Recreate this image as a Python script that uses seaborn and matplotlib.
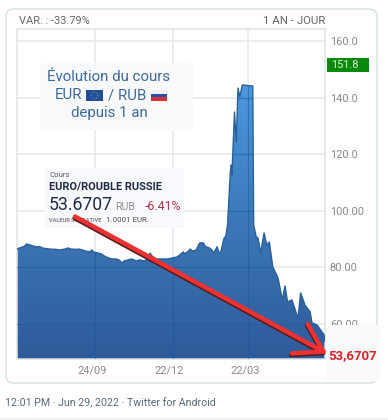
import numpy as np
import pandas as pd
import seaborn as sns
import matplotlib.pyplot as plt
from matplotlib.colors import LinearSegmentedColormap
from matplotlib.patches import FancyBboxPatch, Rectangle, Polygon, Circle
from matplotlib.transforms import ScaledTranslation

# days since 27/06/2021 and EUR/RUB rate
days = [0, 3, 8, 11, 15, 18, 23, 26, 29, 33, 38, 45, 49, 55, 59, 62, 68, 71, 75, 79,
        84, 86, 88, 93, 97, 100, 105, 109, 114, 117, 121, 123, 128, 132, 137, 141,
        146, 151, 153, 155, 160, 167, 173, 179, 184, 187, 191, 193, 197, 199, 202,
        206, 210, 214, 217, 221, 224, 226, 230, 232, 234, 238, 240, 242, 245, 246,
        247, 250, 252, 254, 256, 259, 271, 272, 275, 277, 280, 284, 287, 290, 294,
        300, 305, 308, 311, 316, 323, 326, 331, 337, 339, 345, 353, 354]
rate = [86.5, 86.9, 87.4, 88.3, 88.0, 87.6, 87.3, 87.4, 86.9, 86.7, 86.5, 86.4, 86.2,
        86.5, 86.9, 86.5, 86.4, 86.5, 86.2, 85.8, 85.5, 86.2, 85.5, 85.1, 84.8, 84.1,
        83.4, 83.0, 83.0, 82.7, 81.6, 82.3, 82.7, 83.0, 82.3, 82.7, 82.3, 83.0, 85.1,
        84.1, 83.0, 83.0, 83.0, 83.4, 83.7, 84.4, 85.5, 84.8, 85.8, 86.5, 85.8, 86.2,
        88.7, 88.7, 87.3, 86.9, 86.2, 85.1, 87.3, 85.5, 85.1, 90.4, 91.1, 95.0, 112.7,
        116.3, 112.7, 135.0, 124.4, 143.5, 140.4, 144.6, 144.2, 95.0, 90.8, 90.4, 85.1,
        92.2, 88.0, 89.0, 80.2, 76.3, 68.5, 73.5, 67.8, 68.5, 62.1, 71.0, 66.7, 64.2,
        60.4, 59.6, 56.1, 53.67]
y_ticks = [60, 80, 100, 120, 140, 160]
y_labels = ["60.00", "80.00", "100.00", "120.0", "140.0", "160.0"]
x_ticks = [90, 179, 266]
x_labels = ["24/09", "22/12", "22/03"]

sns.set_theme(style="whitegrid")
plt.rcParams['font.family'] = ['Roboto', 'DejaVu Sans']

W, H = 388, 420
fig = plt.figure(figsize=(W / 100, H / 100), dpi=100, facecolor="white")


def pix_axes(z):
    a = fig.add_axes([0, 0, 1, 1], zorder=z)
    a.set_xlim(0, W)
    a.set_ylim(H, 0)
    a.axis("off")
    a.patch.set_alpha(0)
    return a


# card behind the chart
bg = pix_axes(-1)
bg.add_patch(FancyBboxPatch((6, 9), 371, 374, boxstyle="round,pad=0,rounding_size=8",
                            fc="white", ec="#d5dfe5", lw=1))
bg.add_patch(Rectangle((0, 418), W, 2, fc="#eef1f3", ec="none"))

ax = fig.add_axes([17 / W, 1 - 359 / H, 308 / W, 330 / H])
df = pd.DataFrame({"days": days, "rate": rate})
ymin, ymax = 47.6, 164.4

# gradient under the curve
cmap = LinearSegmentedColormap.from_list("fill", ["#2f5a9a", "#3c78b8", "#4a9ade"])
im = ax.imshow(np.linspace(1, 0, 256).reshape(-1, 1), cmap=cmap, vmin=0, vmax=1,
               extent=[0, 354, ymin, 145], aspect="auto", zorder=2)
outline = list(zip(days, rate)) + [(354, ymin), (0, ymin)]
clip = Polygon(outline, closed=True, transform=ax.transData, fc="none", ec="none")
ax.add_patch(clip)
im.set_clip_path(clip)

# grid shows faintly through the fill
for xt in x_ticks:
    ln = ax.axvline(xt, color="#1f5a9a", lw=0.9, alpha=0.55, zorder=3)
    ln.set_clip_path(clip)
for yt in y_ticks:
    ln = ax.axhline(yt, color="#1f5a9a", lw=0.9, alpha=0.55, zorder=3)
    ln.set_clip_path(clip)

sns.lineplot(data=df, x="days", y="rate", ax=ax, color="#2a6099", lw=1, zorder=4, sort=False)

ax.set_xlim(0, 354)
ax.set_ylim(ymin, ymax)
ax.grid(True, color="#e6e8ea", lw=1.1)
ax.set_axisbelow(True)
for s in ax.spines.values():
    s.set_color("#dfe3e6")
    s.set_linewidth(1.1)
ax.set_xlabel("")
ax.set_ylabel("")
ax.yaxis.tick_right()
ax.set_yticks(y_ticks, y_labels)
ax.set_xticks(x_ticks, x_labels)
ax.tick_params(axis="both", length=0, labelsize=7.9, labelcolor="#8a8a8a")
ax.tick_params(axis="y", pad=3.5)
ax.tick_params(axis="x", pad=4.5)
shift = ScaledTranslation(-3.5 / 100, 0, fig.dpi_scale_trans)
for lab in ax.get_xticklabels():
    lab.set_transform(lab.get_transform() + shift)

# everything pasted on top of the screenshot, in pixels
ov = pix_axes(5)
ov.text(19, 21, "VAR. : -33.79%", fontsize=7.9, color="#666666", va="center")
ov.text(263, 21, "1 AN - JOUR", fontsize=8.2, color="#666666", va="center")
ov.add_patch(Rectangle((327, 58), 42, 14, fc="#0a8a0a", ec="none"))
ov.text(331, 65, "151.8", fontsize=7.9, color="#d8f0d8", va="center")

# title box with the two flags
ov.add_patch(FancyBboxPatch((40, 63), 153, 67, boxstyle="round,pad=0,rounding_size=5",
                            fc="#f7f9fb", ec="none"))
tc = "#3f6a9a"
ov.text(109, 77, "Évolution du cours", fontsize=10.8, color=tc, ha="center", va="center")
ov.text(55, 95, "EUR", fontsize=10.8, color=tc, va="center")
ov.text(108, 95, "/ RUB", fontsize=10.8, color=tc, va="center")
ov.text(109, 113, "depuis 1 an", fontsize=10.8, color=tc, ha="center", va="center")
ov.add_patch(Rectangle((86, 90), 17, 11, fc="#1f4e9a", ec="none"))
for a_ in np.arange(0, 2 * np.pi, np.pi / 4):
    ov.add_patch(Circle((94.5 + 3.4 * np.cos(a_), 95.5 + 3.4 * np.sin(a_)), 0.45, fc="#e8c840", ec="none"))
ov.add_patch(Rectangle((151, 90), 16, 3.7, fc="#f0f0f4", ec="none"))
ov.add_patch(Rectangle((151, 93.7), 16, 3.7, fc="#2a4fa8", ec="none"))
ov.add_patch(Rectangle((151, 97.4), 16, 3.7, fc="#d8303a", ec="none"))

# quote box
ov.add_patch(Rectangle((45, 168), 139, 60, fc="#f8f9fc", ec="none"))
ov.text(49, 175, "Cours", fontsize=5.6, color="#555555", va="center")
ov.text(49, 186, "EURO/ROUBLE RUSSIE", fontsize=7.9, color="#1f2a44", weight="bold", va="center")
ov.text(49, 205, "53.6707", fontsize=12.7, color="#1f2a44", va="center")
ov.text(115, 207, "RUB", fontsize=7.6, color="#8a8f98", va="center")
ov.text(145, 207, "-6.41%", fontsize=8.9, color="#b0344a", va="center")
ov.text(49, 220, "VALEUR INDICATIVE", fontsize=4.1, color="#7a8088", weight="bold", va="center")
ov.text(105.5, 220, "1.0001 EUR", fontsize=5.7, color="#4a5060", va="center")

# box hiding the last price, then the red arrow
ov.add_patch(Rectangle((326, 325), 54, 56, fc="#fafafa", ec="none"))
ov.text(328, 356, "53,6707", fontsize=9.5, color="#d8232a", weight="bold", va="center")
ov.annotate("", xy=(327, 355), xytext=(75, 218),
            arrowprops=dict(arrowstyle="->,head_length=0.8,head_width=0.5", color="#5a1a1a",
                            lw=3.6, mutation_scale=24, shrinkA=0, shrinkB=0))
ov.annotate("", xy=(327, 353.5), xytext=(75, 216.5),
            arrowprops=dict(arrowstyle="->,head_length=0.8,head_width=0.5", color="#ea3232",
                            lw=3.2, mutation_scale=24, shrinkA=0, shrinkB=0))

ov.text(5, 402.5, "12:01 PM · Jun 29, 2022 · Twitter for Android", fontsize=7.7, color="#5a6b78", va="center")

fig.savefig("out.png", dpi=100)
